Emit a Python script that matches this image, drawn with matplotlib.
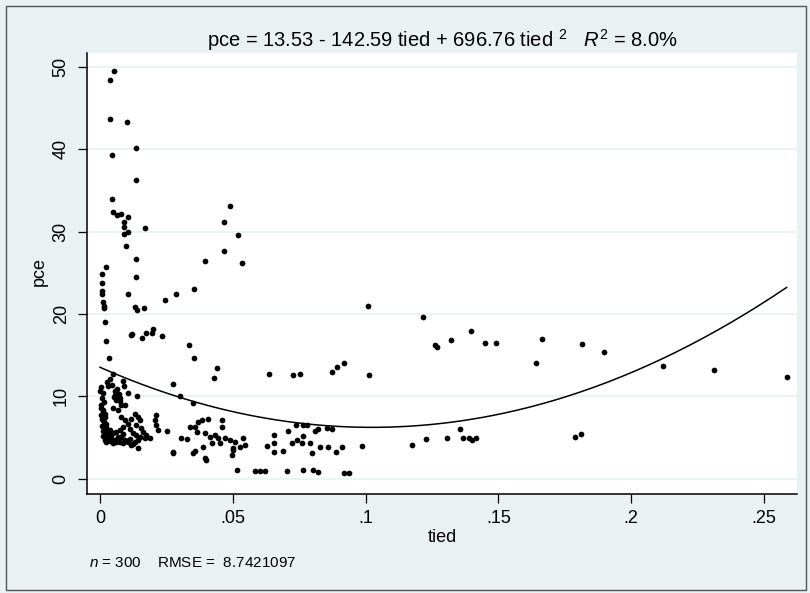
import numpy as np
import matplotlib
matplotlib.use("Agg")
import matplotlib.pyplot as plt
from matplotlib import font_manager
from matplotlib.patches import Rectangle

# ── font ───────────────────────────────────────────────────────────────────────
names = {f.name for f in font_manager.fontManager.ttflist}
FONT = "Liberation Sans Narrow" if "Liberation Sans Narrow" in names else "Liberation Sans"
plt.rcParams["font.family"] = [FONT, "DejaVu Sans"]
plt.rcParams["mathtext.fontset"] = "custom"
plt.rcParams["mathtext.rm"] = FONT
plt.rcParams["mathtext.it"] = FONT + ":italic"

# ── data ───────────────────────────────────────────────────────────────────────
# high values, small tied
tied_hi = [0.0053, 0.0038, 0.0039, 0.0103, 0.0134, 0.0046, 0.0136, 0.0046, 0.0049,
           0.0065, 0.0080, 0.0107, 0.0089, 0.0090, 0.0169, 0.0105, 0.0090, 0.0099]
pce_hi  = [49.5, 48.4, 43.7, 43.3, 40.2, 39.3, 36.3, 34.0, 32.4,
           32.0, 32.1, 31.8, 31.2, 30.6, 30.5, 30.0, 29.7, 28.2]

# 14-27 band, small tied
tied_band = [0.0137, 0.0023, 0.0006, 0.0134, 0.0009, 0.0009, 0.0009, 0.0105, 0.0011,
             0.0014, 0.0014, 0.0130, 0.0140, 0.0166, 0.0245, 0.0285, 0.0355, 0.0200,
             0.0172, 0.0158, 0.0194, 0.0233, 0.0122, 0.0117, 0.0020, 0.0024, 0.0034,
             0.0335, 0.0354]
pce_band  = [26.7, 25.7, 24.9, 24.5, 23.8, 22.8, 22.4, 22.4, 21.4,
             21.0, 20.7, 20.8, 20.5, 20.7, 21.7, 22.4, 23.0, 18.2,
             17.7, 17.1, 17.7, 17.3, 17.6, 17.4, 19.0, 16.7, 14.7,
             16.2, 14.7]

# scattered mid values
tied_mid = [0.0489, 0.0466, 0.0518, 0.0467, 0.0395, 0.0535, 0.0442, 0.0429, 0.0637,
            0.0728, 0.0753, 0.0875, 0.0891, 0.0920, 0.1010, 0.1014, 0.1215, 0.1261,
            0.1270, 0.1323, 0.1398, 0.1450, 0.1490, 0.1640, 0.1663, 0.1815, 0.1898,
            0.2121, 0.2312, 0.2585, 0.0275, 0.0301, 0.0349]
pce_mid  = [33.1, 31.2, 29.6, 27.6, 26.4, 26.2, 13.4, 12.2, 12.7,
            12.6, 12.7, 13.0, 13.6, 14.0, 21.0, 12.6, 19.6, 16.2,
            16.0, 16.8, 17.9, 16.5, 16.5, 14.1, 17.0, 16.4, 15.4,
            13.7, 13.2, 12.4, 11.5, 10.1, 9.2]

# low values, larger tied
tied_lowr = [0.0985, 0.1176, 0.1227, 0.1306, 0.1357, 0.1368, 0.1390, 0.1402, 0.1416,
             0.1790, 0.1810]
pce_lowr  = [4.0, 4.1, 4.8, 4.9, 6.0, 4.9, 5.0, 4.7, 4.9,
             5.1, 5.4]

# low values, tied 0.03-0.1
tied_lowm = [0.0458, 0.0460, 0.0339, 0.0358, 0.0370, 0.0383, 0.0408,
             0.0364, 0.0395, 0.0414, 0.0433, 0.0446, 0.0421, 0.0452, 0.0471, 0.0490,
             0.0508, 0.0540, 0.0546, 0.0527, 0.0502,
             0.0351, 0.0389, 0.0395, 0.0496, 0.0502, 0.0357, 0.0399,
             0.0517, 0.0584, 0.0602, 0.0621, 0.0703, 0.0765, 0.0803, 0.0822, 0.0919, 0.0937,
             0.0656, 0.0655, 0.0628, 0.0656, 0.0690,
             0.0706, 0.0738, 0.0765, 0.0778, 0.0741, 0.0722, 0.0765, 0.0759, 0.0790,
             0.0809, 0.0822, 0.0853, 0.0828, 0.0859, 0.0797,
             0.0875, 0.0887, 0.0910]
pce_lowm  = [7.1, 6.3, 6.3, 6.3, 6.9, 7.1, 7.2,
             5.7, 5.5, 5.1, 5.3, 4.9, 4.3, 4.3, 4.9, 4.7,
             4.5, 4.9, 4.1, 3.9, 3.7,
             3.1, 3.9, 2.5, 2.9, 3.5, 3.4, 2.3,
             1.0, 0.9, 0.9, 0.9, 0.9, 1.0, 1.0, 0.8, 0.7, 0.7,
             5.3, 4.3, 4.0, 3.2, 3.4,
             5.8, 6.5, 6.5, 6.5, 4.7, 4.3, 5.2, 4.3, 4.3,
             5.8, 6.0, 6.1, 3.9, 3.9, 3.1,
             6.0, 3.2, 3.8]

# dense cluster, tied < 0.035
tied_dense = [0.0049, 0.0005, 0.0000, 0.0011, 0.0030, 0.0045, 0.0087, 0.0090, 0.0105, 0.0140,
              0.0055, 0.0068, 0.0061, 0.0074, 0.0080, 0.0093, 0.0049, 0.0068,
              0.0005, 0.0011, 0.0005, 0.0018, 0.0011, 0.0024, 0.0018, 0.0030,
              0.0080, 0.0093, 0.0105, 0.0087, 0.0131, 0.0143, 0.0149, 0.0137,
              0.0212, 0.0206, 0.0212, 0.0218, 0.0253,
              0.0036, 0.0049, 0.0061, 0.0074, 0.0030, 0.0043, 0.0055, 0.0024, 0.0018,
              0.0068, 0.0080, 0.0093, 0.0074, 0.0105, 0.0118, 0.0131, 0.0143, 0.0149,
              0.0162, 0.0137, 0.0168, 0.0187, 0.0143, 0.0124, 0.0304, 0.0329, 0.0275,
              0.0274,
              0.0008, 0.0015, 0.0003, 0.0012, 0.0020, 0.0007, 0.0016, 0.0009, 0.0022,
              0.0013, 0.0025, 0.0012, 0.0020,
              0.0058, 0.0064, 0.0071, 0.0077, 0.0052,
              0.0036, 0.0048, 0.0062, 0.0086, 0.0099, 0.0112, 0.0040, 0.0087,
              0.0025, 0.0036, 0.0112, 0.0124, 0.0156, 0.0175, 0.0118]
pce_dense  = [12.7, 11.1, 10.6, 10.4, 11.3, 11.4, 11.9, 11.3, 10.4, 10.1,
              10.2, 10.0, 9.6, 9.4, 9.0, 9.0, 8.6, 8.3,
              8.6, 8.1, 7.7, 7.5, 7.1, 6.7, 6.1, 5.7,
              7.5, 7.1, 6.7, 6.3, 7.9, 7.5, 7.1, 6.5,
              7.7, 7.1, 6.5, 5.9, 5.8,
              5.9, 5.5, 5.7, 5.9, 5.1, 4.9, 4.7, 4.5, 4.7,
              5.1, 5.1, 4.7, 4.5, 4.4, 4.1, 4.5, 4.7, 5.1,
              5.7, 5.3, 4.9, 4.9, 3.7, 4.2, 5.0, 4.8, 3.2,
              3.1,
              9.8, 9.3, 9.0, 8.4, 7.9, 7.3, 6.9, 6.4, 6.3,
              5.8, 5.4, 5.2, 4.9,
              10.6, 10.9, 10.3, 9.8, 9.9,
              4.6, 4.3, 4.4, 4.3, 4.6, 4.8, 5.3, 5.4,
              11.8, 12.1, 6.0, 5.6, 6.2, 5.3, 7.2]

tied = np.array(tied_hi + tied_band + tied_mid + tied_lowr + tied_lowm + tied_dense)
pce = np.array(pce_hi + pce_band + pce_mid + pce_lowr + pce_lowm + pce_dense)

# quadratic fit as reported in the title
B0, B1, B2 = 13.53, -142.59, 696.76

y_ticks = [0, 10, 20, 30, 40, 50]
x_ticks = [0, 0.05, 0.10, 0.15, 0.20, 0.25]
x_tick_labels = ["0", ".05", ".1", ".15", ".2", ".25"]

BG = "#e9f1f3"

# ── figure ─────────────────────────────────────────────────────────────────────
W, H = 810, 593
fig = plt.figure(figsize=(W / 100, H / 100), dpi=100, facecolor=BG)
ax = fig.add_axes([87 / W, 1 - 494 / H, (797 - 87) / W, (494 - 53) / H])
ax.set_facecolor("white")

ax.scatter(tied, pce, s=17, color="black", linewidths=0, zorder=3)

xs = np.linspace(tied.min(), tied.max(), 200)
ax.plot(xs, B0 + B1 * xs + B2 * xs ** 2, color="black", lw=1.1, zorder=4)

ax.set_xlim(-0.0049, 0.2624)
ax.set_ylim(-1.86, 51.7)
ax.set_yticks(y_ticks)
ax.set_yticklabels([str(v) for v in y_ticks], rotation=90, va="center")
ax.set_xticks(x_ticks)
ax.set_xticklabels(x_tick_labels)
ax.tick_params(axis="both", length=6.5, width=0.9, color="black", labelsize=13)
ax.tick_params(axis="y", pad=6)
ax.tick_params(axis="x", pad=5)

ax.yaxis.grid(True, color=BG, lw=1.2)
ax.set_axisbelow(True)
for side in ("top", "right"):
    ax.spines[side].set_visible(False)
for side in ("left", "bottom"):
    ax.spines[side].set_linewidth(1.1)
    ax.spines[side].set_color("black")

fig.text(442 / W, 1 - 40 / H,
         "pce = 13.53 - 142.59 tied + 696.76 tied $^2$   $R^2$ = 8.0%",
         ha="center", va="center", fontsize=14.5)
fig.text(39 / W, 1 - 272 / H, "pce", rotation=90, ha="center", va="center", fontsize=13)
fig.text(442 / W, 1 - 538 / H, "tied", ha="center", va="center", fontsize=13)
fig.text(89 / W, 1 - 563 / H, "$n$ = 300    RMSE =  8.7421097",
         ha="left", va="center", fontsize=11)

fig.patches.append(Rectangle((6 / W, 3 / H), (806 - 6) / W, (587 - 3) / H,
                             transform=fig.transFigure, fill=False,
                             edgecolor="#555555", lw=1.0))

fig.savefig("out.png", dpi=100, facecolor=BG)
